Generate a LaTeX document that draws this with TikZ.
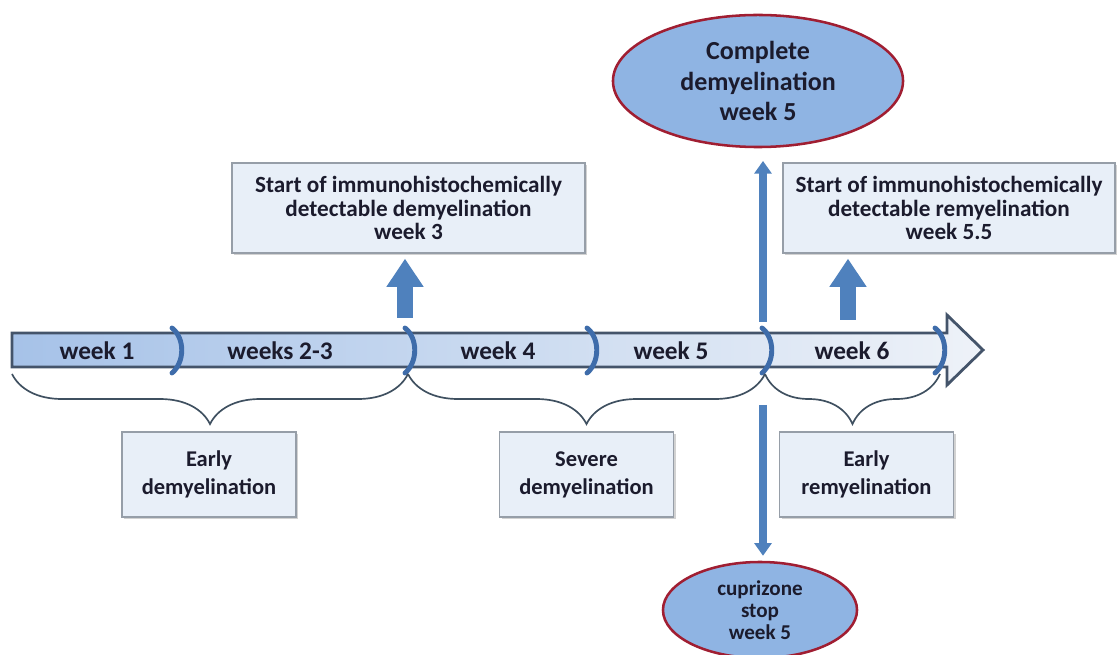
\documentclass[tikz,border=0pt]{standalone}
\usepackage{fontspec}
\setmainfont{Carlito}
\usepackage{tikz}
\usetikzlibrary{arrows.meta, positioning, shapes.geometric, shadows, decorations.pathreplacing}

\definecolor{barblue}{RGB}{166,194,232}
\definecolor{barpale}{RGB}{238,242,248}
\definecolor{barline}{RGB}{68,84,106}
\definecolor{tickblue}{RGB}{62,108,170}
\definecolor{boxfill}{RGB}{232,239,248}
\definecolor{boxline}{RGB}{150,158,168}
\definecolor{ovalfill}{RGB}{143,180,227}
\definecolor{ovalline}{RGB}{160,30,50}
\definecolor{arrowblue}{RGB}{79,129,189}
\definecolor{inkdark}{RGB}{27,27,45}
\definecolor{bracegray}{RGB}{63,80,96}

\begin{document}
\begin{tikzpicture}[x=0.025cm, y=-0.025cm, text=inkdark]
  \tikzstyle{week}=[font=\fontsize{18}{21}\selectfont\bfseries]
  \tikzstyle{infobox}=[rectangle, draw=boxline, line width=1pt, fill=boxfill, align=center, inner sep=0pt,
                       drop shadow={shadow xshift=1.5pt, shadow yshift=-1.5pt, fill=gray!70}]
  \tikzstyle{topbox}=[infobox, minimum height=2.25cm, font=\fontsize{16.5}{16.5}\selectfont\bfseries]
  \tikzstyle{phase}=[infobox, minimum width=4.35cm, minimum height=2.125cm, font=\fontsize{16}{20}\selectfont\bfseries]
  \tikzstyle{oval}=[ellipse, draw=ovalline, line width=1.8pt, fill=ovalfill, align=center, inner sep=0pt]
  \tikzstyle{blockarrow}=[-{Triangle[width=25pt, length=20pt]}, line width=12pt, draw=arrowblue]
  \tikzstyle{slimarrow}=[-{Triangle[width=12pt, length=9pt]}, line width=5.5pt, draw=arrowblue]
  \tikzstyle{phasebrace}=[draw=bracegray, line width=1.2pt, decorate, decoration={brace, mirror, amplitude=1.25cm}]

  \useasboundingbox (0,0) rectangle (1118,655);

  % time bar
  \path[draw=barline, line width=2pt, left color=barblue, right color=barpale]
    (12,333) -- (947,333) -- (947,315) -- (983,350) -- (947,385) -- (947,367) -- (12,367) -- cycle;
  \foreach \x in {175, 408, 590, 765, 938}
    \draw[tickblue, line width=3.5pt, line cap=round] (\x-3,328) .. controls (\x+10,338) and (\x+10,362) .. (\x-3,373);

  \node[week] (wk1)  at (97,351)  {week 1};
  \node[week] (wk23) at (280,351) {weeks 2-3};
  \node[week] (wk4)  at (498,351) {week 4};
  \node[week] (wk5)  at (671,351) {week 5};
  \node[week] (wk6)  at (852,351) {week 6};

  \node[topbox, minimum width=8.825cm] (demstart) at (408.5,208) {Start of immunohistochemically\\detectable demyelination\\week 3};
  \node[topbox, minimum width=8.3cm]   (remstart) at (949,208)   {Start of immunohistochemically\\detectable remyelination\\week 5.5};
  \node[oval, minimum width=7.25cm, minimum height=3.3cm, font=\fontsize{18.5}{22}\selectfont\bfseries]
        (complete) at (758,81) {Complete\\demyelination\\week 5};
  \node[oval, minimum width=4.85cm, minimum height=2.4cm, font=\fontsize{15}{15.5}\selectfont\bfseries]
        (cupstop) at (760,610) {cuprizone\\stop\\week 5};

  \node[phase] (earlydem)  at (209,474.5)   {Early\\demyelination};
  \node[phase] (severedem) at (586.5,474.5) {Severe\\demyelination};
  \node[phase] (earlyrem)  at (866.5,474.5) {Early\\remyelination};

  % braces under the bar
  \coordinate (b0) at (12,374);
  \coordinate (b1) at (408,374);
  \coordinate (b2) at (765,374);
  \coordinate (b3) at (940,374);
  \draw[phasebrace] (b0) -- (b1);
  \draw[phasebrace] (b1) -- (b2);
  \draw[phasebrace] (b2) -- (b3);

  % arrows
  \coordinate (up3)   at (405,318);
  \coordinate (up55)  at (848,320);
  \coordinate (up5)   at (763,322);
  \coordinate (down5) at (763,405);
  \path
        (up3)   edge [blockarrow, shorten >=3.5pt] (up3 |- demstart.south)
        (up55)  edge [blockarrow, shorten >=3.5pt] (up55 |- remstart.south)
        (up5)   edge [slimarrow, shorten >=9pt]    (up5 |- complete.south)
        (down5) edge [slimarrow, shorten >=3.5pt]  (down5 |- cupstop.north);
\end{tikzpicture}
\end{document}
